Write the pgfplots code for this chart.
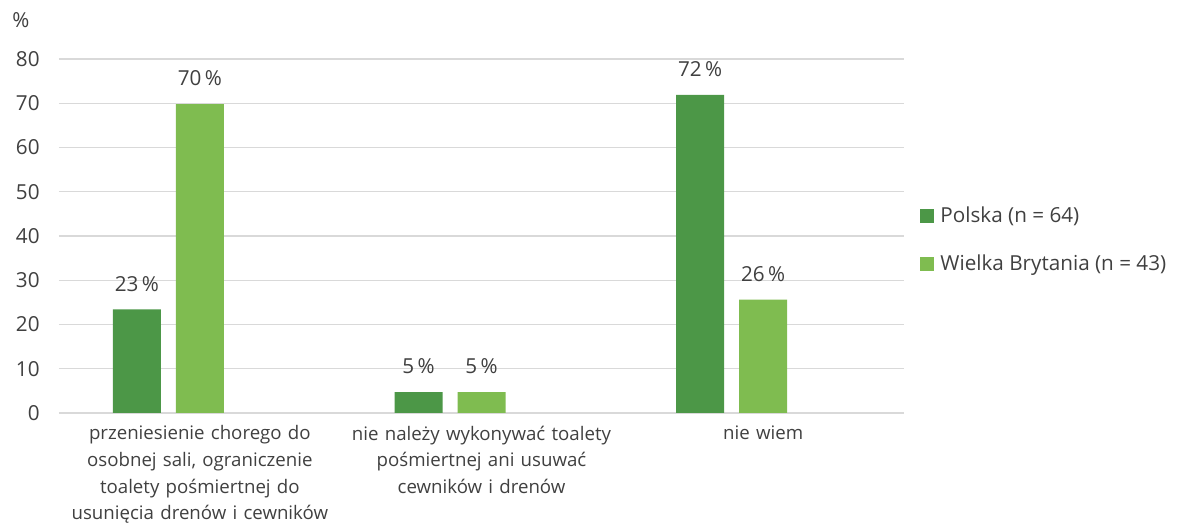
\documentclass[border=0pt]{standalone}
\usepackage{fontspec}
\setmainfont{Open Sans}
\usepackage{pgfplots}
\pgfplotsset{compat=1.18}
\definecolor{dg}{HTML}{4C9747}
\definecolor{lg}{HTML}{7FBC50}
\definecolor{txt}{HTML}{404040}
\definecolor{gridc}{HTML}{D9D9D9}
\begin{document}
\begin{tikzpicture}
\useasboundingbox (-44.25pt,-88.5pt) rectangle (842.25pt,309.75pt);
\begin{axis}[
  scale only axis,
  clip=false,
  width=633.75pt, height=265.5pt,
  ymin=0, ymax=80, xmin=-0.5, xmax=2.5,
  ybar, bar width=36pt,
  ytick={0,10,...,80},
  xtick={0,1,2},
  xticklabels={{przeniesienie chorego do\\osobnej sali, ograniczenie\\toalety pośmiertnej do\\usunięcia drenów i cewników},
               {nie należy wykonywać toalety\\pośmiertnej ani usuwać\\cewników i drenów},
               {nie wiem}},
  axis line style={draw=none},
  major tick length=0pt,
  ymajorgrids,
  grid style={gridc, line width=1.1pt},
  /pgf/number format/assume math mode=true,
  xticklabel style={font=\fontsize{14}{20}\selectfont, text=txt, text width=260pt, align=center, anchor=north, yshift=-6pt},
  yticklabel style={font=\fontsize{15.5}{18}\selectfont, text=txt, xshift=-11pt},
  nodes near coords={\pgfmathprintnumber[fixed,precision=0]{\pgfplotspointmeta}\,\%},
  every node near coord/.append style={font=\fontsize{15.5}{18}\selectfont, text=txt, yshift=10pt},
  legend style={at={(1.019,0.489)}, anchor=west, draw=none, fill=none, inner sep=0pt,
    font=\fontsize{15.5}{18}\selectfont, text=txt, row sep=19pt},
  legend cell align=left,
  legend image code/.code={\fill[#1] (0pt,-5.25pt) rectangle (10.5pt,5.25pt);},
]
\addplot[bar shift=-47.25pt, fill=dg, draw=none] coordinates {(0,23.4) (1,4.7) (2,71.9)};
\addlegendentry{\,Polska (n = 64)}
\addplot[bar shift=0pt, fill=lg, draw=none] coordinates {(0,69.8) (1,4.7) (2,25.6)};
\addlegendentry{\,Wielka Brytania (n = 43)}
\node[font=\fontsize{15.5}{18}\selectfont, text=txt] at (rel axis cs:-0.045,1.11) {\%};
\end{axis}
\end{tikzpicture}
\end{document}
